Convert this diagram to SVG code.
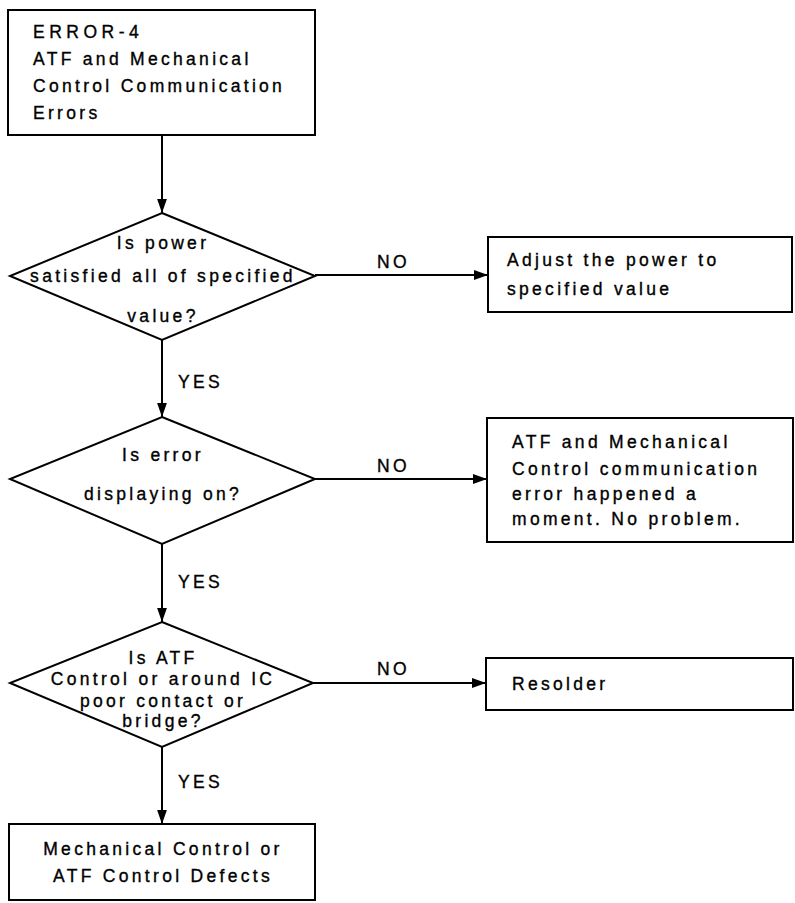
<svg xmlns="http://www.w3.org/2000/svg" width="795" height="903" viewBox="0 0 795 903">
<style>
.shape{fill:#fff;stroke:#000;stroke-width:2}
.t{font-family:"Liberation Sans",Arial,sans-serif;font-size:17.5px;letter-spacing:3.3px;fill:#000;stroke:#000;stroke-width:0.35}
.c{text-anchor:middle}
.line{stroke:#000;stroke-width:2;fill:none}
</style>
<defs>
<marker id="ah" viewBox="0 0 10 10" refX="10" refY="5" markerWidth="14" markerHeight="14" markerUnits="userSpaceOnUse" orient="auto">
<path d="M0,1.5 L10,5 L0,8.5 Z" fill="#000"/>
</marker>
</defs>
<rect width="795" height="903" fill="#fff"/>
<g id="connectors">
<line class="line" x1="162" y1="135" x2="162" y2="213" marker-end="url(#ah)"/>
<line class="line" x1="162" y1="340" x2="162" y2="417" marker-end="url(#ah)"/>
<line class="line" x1="162" y1="544" x2="162" y2="622" marker-end="url(#ah)"/>
<line class="line" x1="162" y1="747" x2="162" y2="824" marker-end="url(#ah)"/>
<line class="line" x1="315" y1="275" x2="488" y2="275" marker-end="url(#ah)"/>
<line class="line" x1="315" y1="479" x2="487" y2="479" marker-end="url(#ah)"/>
<line class="line" x1="313" y1="683" x2="486" y2="683" marker-end="url(#ah)"/>
<text class="t" x="377" y="268">NO</text>
<text class="t" x="377" y="472">NO</text>
<text class="t" x="377" y="675">NO</text>
<text class="t" x="178" y="388">YES</text>
<text class="t" x="178" y="588">YES</text>
<text class="t" x="178" y="788">YES</text>
</g>
<g id="start">
<rect class="shape" x="8" y="10" width="307" height="125"/>
<text class="t" x="33" y="38" style="letter-spacing:4.5px">ERROR-4</text>
<text class="t" x="33" y="65">ATF and Mechanical</text>
<text class="t" x="33" y="92">Control Communication</text>
<text class="t" x="33" y="119">Errors</text>
</g>
<g id="q1">
<polygon class="shape" points="162,213 315,276 162,340 10,276"/>
<text class="t c" x="163" y="249">Is power</text>
<text class="t c" x="163" y="282">satisfied all of specified</text>
<text class="t c" x="163" y="322">value?</text>
</g>
<g id="adjust">
<rect class="shape" x="488" y="237" width="304" height="75"/>
<text class="t" x="507" y="266">Adjust the power to</text>
<text class="t" x="507" y="295">specified value</text>
</g>
<g id="q2">
<polygon class="shape" points="162,417 315,479 162,544 10,479"/>
<text class="t c" x="163" y="461">Is error</text>
<text class="t c" x="163" y="500">displaying on?</text>
</g>
<g id="noproblem">
<rect class="shape" x="487" y="418" width="306" height="124"/>
<text class="t" x="512" y="448">ATF and Mechanical</text>
<text class="t" x="512" y="475">Control communication</text>
<text class="t" x="512" y="500">error happened a</text>
<text class="t" x="512" y="525">moment. No problem.</text>
</g>
<g id="q3">
<polygon class="shape" points="162,622 313,683 162,747 10,683"/>
<text class="t c" x="163" y="664">Is ATF</text>
<text class="t c" x="163" y="685">Control or around IC</text>
<text class="t c" x="163" y="707">poor contact or</text>
<text class="t c" x="163" y="727">bridge?</text>
</g>
<g id="resolder">
<rect class="shape" x="486" y="658" width="307" height="52"/>
<text class="t" x="512" y="690">Resolder</text>
</g>
<g id="defects">
<rect class="shape" x="9" y="824" width="306" height="76"/>
<text class="t c" x="163" y="855">Mechanical Control or</text>
<text class="t c" x="163" y="882">ATF Control Defects</text>
</g>
</svg>
